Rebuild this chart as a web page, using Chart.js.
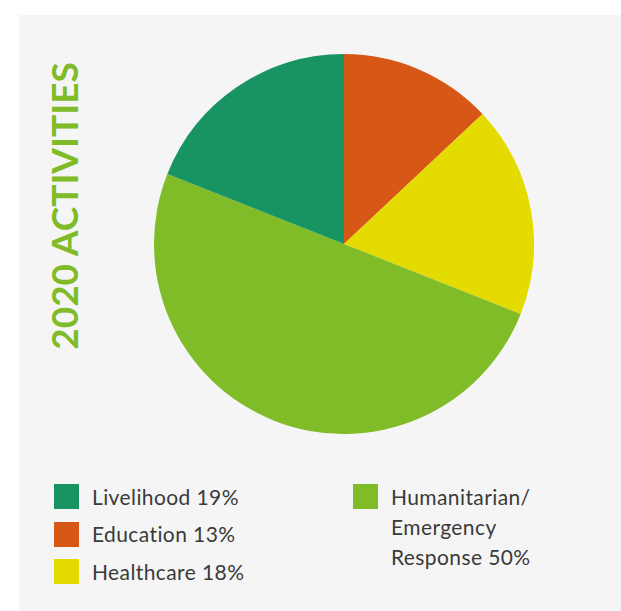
<!DOCTYPE html>
<html>
<head>
<meta charset="utf-8">
<script src="https://cdn.jsdelivr.net/npm/chart.js@4.4.0/dist/chart.umd.min.js"></script>
<style>
  html, body { margin: 0; padding: 0; background: #ffffff; }
  body { width: 621px; height: 611px; position: relative; overflow: hidden; font-family: Lato, "Noto Sans", sans-serif; }
  #panel { position: absolute; left: 19px; top: 15px; width: 602px; height: 596px; background: #f5f5f5; }
  #title { position: absolute; left: 63px; top: 206px; transform: translate(-50%, -50%) rotate(-90deg); white-space: nowrap;
           color: #80bb28; font-weight: 700; font-size: 37px; line-height: 1; }
  #chartBox { position: absolute; left: 154px; top: 54px; width: 380px; height: 380px; }
  .sw { position: absolute; width: 25px; height: 25px; }
  .lbl { position: absolute; color: #3a3a3a; font-size: 21px; letter-spacing: 0.4px; line-height: 30px; white-space: nowrap; }
</style>
</head>
<body>
<div id="panel"></div>
<div id="title"></div>
<div id="chartBox"><canvas id="c"></canvas></div>
<div id="legend"></div>
<script>
const titleText = "2020 ACTIVITIES";
// slice order clockwise from 12 o'clock
const categories = ["Education", "Healthcare", "Humanitarian/ Emergency Response", "Livelihood"];
const values = [13, 18, 50, 19];
const colors = ["#d65716", "#e4dc00", "#80bb28", "#189462"];
// legend order and labels
const legendOrder = [3, 0, 1, 2];
const legendLines = [
  ["Livelihood 19%"],
  ["Education 13%"],
  ["Healthcare 18%"],
  ["Humanitarian/", "Emergency", "Response 50%"]
];

document.getElementById('title').textContent = titleText;

new Chart(document.getElementById('c'), {
  type: 'pie',
  data: {
    labels: categories,
    datasets: [{ data: values, backgroundColor: colors, borderWidth: 0 }]
  },
  options: {
    responsive: true,
    maintainAspectRatio: false,
    animation: false,
    layout: { padding: 0 },
    plugins: { legend: { display: false }, tooltip: { enabled: false } }
  }
});

// legend layout: first three in column 1, last in column 2
const legend = document.getElementById('legend');
const pos = [
  { x: 54, y: 484 },
  { x: 54, y: 521.5 },
  { x: 54, y: 559 },
  { x: 353, y: 484 }
];
legendOrder.forEach((idx, i) => {
  const sw = document.createElement('div');
  sw.className = 'sw';
  sw.style.left = pos[i].x + 'px';
  sw.style.top = pos[i].y + 'px';
  sw.style.background = colors[idx];
  legend.appendChild(sw);
  const lbl = document.createElement('div');
  lbl.className = 'lbl';
  lbl.style.left = (pos[i].x + 38) + 'px';
  lbl.style.top = (pos[i].y - 2.5) + 'px';
  lbl.innerHTML = legendLines[i].join('<br>');
  legend.appendChild(lbl);
});
</script>
</body>
</html>
